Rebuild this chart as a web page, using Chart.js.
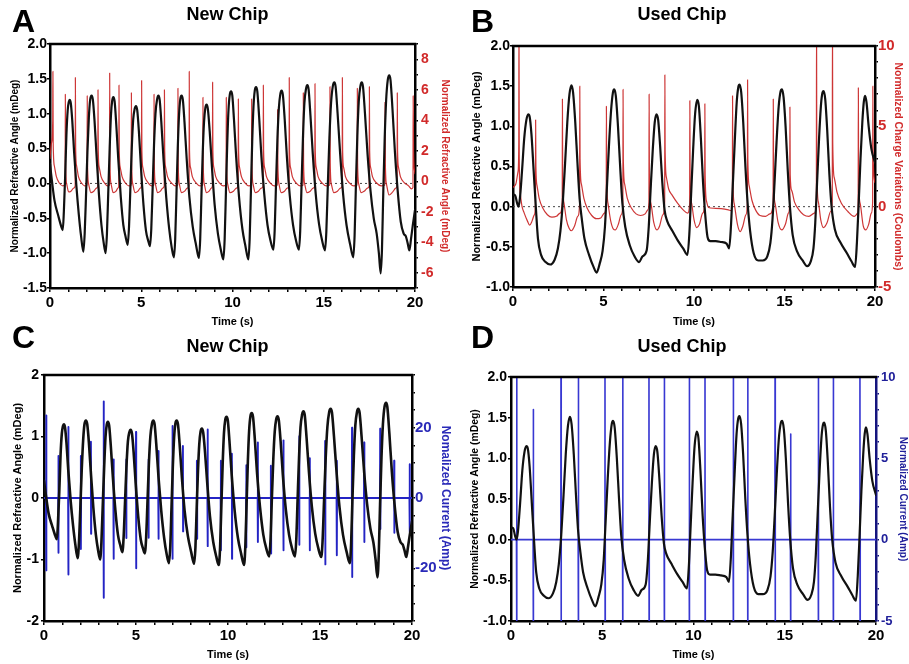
<!DOCTYPE html>
<html>
<head>
<meta charset="utf-8">
<title>Refractive angle, charge and current — new vs used chip</title>
<script src="https://cdn.jsdelivr.net/npm/chart.js@4.4.1/dist/chart.umd.min.js"></script>
<style>
  html, body { margin: 0; padding: 0; background: #fff; }
  #page { position: relative; width: 909px; height: 664px; overflow: hidden;
          font-family: "Liberation Sans", Arial, sans-serif; }
  canvas { position: absolute; }
  .letter { position: absolute; font-weight: bold; font-size: 32px; line-height: 1; color: #000; }
</style>
</head>
<body>
<div id="page">
  <canvas id="chartA" width="455" height="332" style="left:0px;top:0px"></canvas>
  <canvas id="chartB" width="454" height="332" style="left:455px;top:0px"></canvas>
  <canvas id="chartC" width="455" height="332" style="left:0px;top:332px"></canvas>
  <canvas id="chartD" width="454" height="332" style="left:455px;top:332px"></canvas>
  <div class="letter" style="left:12px;top:5px">A</div>
  <div class="letter" style="left:471px;top:5px">B</div>
  <div class="letter" style="left:12px;top:321px">C</div>
  <div class="letter" style="left:471px;top:321px">D</div>
</div>
<script>
// ---- tick labels ----
const timeLabels = [0, 5, 10, 15, 20];
const chargeLabelsNew = [-6, -4, -2, 0, 2, 4, 6, 8];
const chargeLabelsUsed = [-5, 0, 5, 10];
const currentLabelsNew = [-20, 0, 20];
const currentLabelsUsed = [-5, 0, 5, 10];

// ---- normalized refractive angle (mDeg) vs time (s), new chip ----
const newChipAngle = [
  [0.00,0.28],[0.10,0.05],[0.25,-0.25],[0.45,-0.46],[0.62,-0.62],
  [0.70,-0.67],[0.76,-0.40],[0.83,0.10],[0.90,0.70],[0.97,1.05],[1.03,1.17],[1.08,1.20],[1.14,1.15],[1.22,0.90],[1.32,0.45],[1.45,-0.05],[1.58,-0.45],[1.70,-0.75],[1.83,-0.98],
  [1.90,-0.72],[1.97,-0.20],[2.05,0.45],[2.13,0.95],[2.20,1.20],[2.28,1.26],[2.35,1.20],[2.44,0.90],[2.55,0.40],[2.68,-0.15],[2.82,-0.60],[2.94,-0.85],[3.05,-1.00],
  [3.12,-0.72],[3.19,-0.15],[3.27,0.50],[3.34,0.98],[3.41,1.19],[3.47,1.24],[3.54,1.18],[3.63,0.85],[3.74,0.35],[3.88,-0.20],[4.02,-0.60],[4.14,-0.76],[4.26,-0.88],
  [4.33,-0.62],[4.40,-0.10],[4.48,0.50],[4.56,0.92],[4.64,1.07],[4.71,1.11],[4.78,1.05],[4.87,0.75],[4.98,0.25],[5.12,-0.30],[5.26,-0.68],[5.38,-0.82],[5.48,-0.90],
  [5.55,-0.65],[5.62,-0.10],[5.70,0.55],[5.78,1.00],[5.87,1.21],[5.94,1.26],[6.01,1.20],[6.10,0.88],[6.22,0.35],[6.37,-0.20],[6.53,-0.65],[6.67,-0.92],[6.79,-1.06],
  [6.86,-0.80],[6.93,-0.15],[7.00,0.50],[7.07,0.98],[7.14,1.21],[7.21,1.26],[7.28,1.20],[7.37,0.88],[7.49,0.35],[7.64,-0.20],[7.82,-0.62],[8.00,-0.88],[8.16,-1.07],
  [8.23,-0.80],[8.30,-0.15],[8.37,0.45],[8.44,0.88],[8.51,1.08],[8.58,1.13],[8.65,1.07],[8.75,0.75],[8.87,0.25],[9.02,-0.30],[9.20,-0.72],[9.36,-0.95],[9.50,-1.09],
  [9.57,-0.80],[9.64,-0.12],[9.71,0.55],[9.78,1.05],[9.85,1.27],[9.92,1.32],[9.99,1.26],[10.08,0.92],[10.20,0.38],[10.36,-0.20],[10.54,-0.65],[10.71,-0.90],[10.87,-1.09],
  [10.94,-0.80],[11.01,-0.10],[11.08,0.60],[11.15,1.10],[11.22,1.33],[11.29,1.38],[11.36,1.32],[11.46,0.95],[11.58,0.40],[11.74,-0.15],[11.92,-0.60],[12.08,-0.82],[12.24,-0.95],
  [12.31,-0.68],[12.38,-0.05],[12.46,0.62],[12.54,1.08],[12.62,1.28],[12.69,1.33],[12.76,1.27],[12.86,0.92],[12.98,0.38],[13.14,-0.18],[13.32,-0.60],[13.48,-0.82],[13.64,-0.95],
  [13.71,-0.68],[13.78,-0.05],[13.86,0.65],[13.94,1.15],[14.03,1.36],[14.10,1.41],[14.17,1.35],[14.27,0.98],[14.40,0.42],[14.56,-0.15],[14.74,-0.58],[14.91,-0.82],[15.07,-0.96],
  [15.14,-0.70],[15.22,-0.05],[15.31,0.65],[15.40,1.15],[15.50,1.40],[15.58,1.45],[15.65,1.39],[15.76,1.00],[15.90,0.42],[16.06,-0.15],[16.25,-0.60],[16.45,-0.88],[16.62,-1.06],
  [16.69,-0.75],[16.76,-0.05],[16.84,0.68],[16.92,1.18],[17.01,1.40],[17.08,1.45],[17.15,1.39],[17.26,1.00],[17.40,0.42],[17.56,-0.10],[17.74,-0.50],[17.90,-0.72],[18.02,-1.00],[18.12,-1.29],
  [18.19,-0.95],[18.26,-0.15],[18.34,0.65],[18.42,1.20],[18.51,1.49],[18.59,1.55],[18.66,1.48],[18.77,1.05],[18.90,0.45],[19.05,-0.10],[19.22,-0.55],[19.38,-0.72],[19.50,-0.76],[19.60,-0.86],[19.69,-0.96],
  [19.78,-0.80],[19.88,-0.60],[20.00,-0.38]
];

// ---- normalized refractive angle (mDeg) vs time (s), used chip ----
const usedChipAngle = [
  [0.00,0.15],[0.12,0.14],[0.22,0.05],[0.30,0.00],[0.38,0.10],[0.50,0.45],[0.62,0.85],[0.74,1.08],[0.84,1.15],[0.92,1.12],[1.02,0.90],[1.14,0.45],[1.26,0.00],[1.38,-0.40],[1.55,-0.60],[1.80,-0.69],[2.05,-0.72],[2.30,-0.66],[2.48,-0.52],[2.62,-0.30],
  [2.75,0.05],[2.88,0.55],[3.00,1.05],[3.12,1.40],[3.23,1.51],[3.32,1.42],[3.44,1.05],[3.56,0.55],[3.68,0.10],[3.80,-0.15],[3.95,-0.40],[4.20,-0.60],[4.45,-0.75],[4.62,-0.82],[4.80,-0.70],[4.95,-0.55],
  [5.08,-0.25],[5.18,0.20],[5.30,0.75],[5.42,1.20],[5.52,1.42],[5.59,1.46],[5.68,1.38],[5.80,1.00],[5.92,0.50],[6.04,0.05],[6.20,-0.25],[6.45,-0.48],[6.72,-0.62],[6.97,-0.69],[7.15,-0.62],[7.38,-0.55],
  [7.50,-0.25],[7.60,0.20],[7.72,0.70],[7.83,1.05],[7.93,1.15],[8.02,1.08],[8.13,0.75],[8.25,0.30],[8.38,-0.05],[8.52,-0.18],[8.80,-0.30],[9.10,-0.42],[9.40,-0.52],[9.64,-0.60],
  [9.74,-0.35],[9.84,0.15],[9.95,0.70],[10.06,1.15],[10.18,1.33],[10.27,1.25],[10.38,0.85],[10.50,0.30],[10.62,-0.10],[10.75,-0.38],[10.90,-0.43],[11.20,-0.43],[11.50,-0.44],[11.80,-0.46],[11.94,-0.52],
  [12.04,-0.25],[12.14,0.25],[12.25,0.80],[12.36,1.30],[12.45,1.49],[12.52,1.52],[12.61,1.42],[12.72,1.05],[12.84,0.50],[12.96,0.05],[13.10,-0.30],[13.30,-0.58],[13.55,-0.67],[13.80,-0.67],[14.05,-0.62],[14.22,-0.45],
  [14.34,-0.15],[14.45,0.30],[14.56,0.80],[14.68,1.25],[14.78,1.43],[14.86,1.46],[14.95,1.36],[15.06,1.00],[15.18,0.45],[15.30,0.00],[15.45,-0.35],[15.70,-0.56],[16.00,-0.67],[16.25,-0.74],[16.45,-0.68],[16.60,-0.52],
  [16.70,-0.20],[16.80,0.30],[16.91,0.85],[17.02,1.28],[17.10,1.42],[17.16,1.44],[17.25,1.34],[17.36,0.95],[17.48,0.40],[17.60,0.00],[17.78,-0.28],[18.10,-0.45],[18.45,-0.58],[18.70,-0.68],[18.90,-0.75],
  [19.00,-0.45],[19.10,0.05],[19.20,0.60],[19.30,1.05],[19.38,1.30],[19.45,1.38],[19.53,1.30],[19.65,1.00],[19.80,0.72],[20.00,0.55]
];

// ---- normalized charge signal, new chip (right axis of A) ----
const newChipCharge = [
  [0.00,1.5],[0.08,2.5],[0.15,4.0],[0.16,7.2],[0.175,2.5],[0.24,1.0],[0.35,0.3],[0.50,-0.1],[0.70,-0.3],[0.83,-0.2],
  [0.84,5.7],[0.855,1.2],[0.92,-0.2],[1.02,-0.7],[1.15,-0.65],[1.30,-0.45],[1.38,-0.3],
  [1.39,6.8],[1.405,2.2],[1.46,1.0],[1.56,0.3],[1.72,-0.1],[1.90,-0.3],[2.03,-0.25],
  [2.04,5.6],[2.055,1.2],[2.12,-0.2],[2.24,-0.75],[2.40,-0.65],[2.55,-0.45],[2.62,-0.3],
  [2.63,6.0],[2.645,2.0],[2.70,0.9],[2.80,0.3],[2.98,-0.1],[3.15,-0.3],[3.26,-0.25],
  [3.27,7.1],[3.285,1.2],[3.35,-0.2],[3.46,-0.75],[3.62,-0.65],[3.72,-0.45],[3.77,-0.3],
  [3.78,6.3],[3.795,2.0],[3.85,0.9],[3.95,0.3],[4.12,-0.1],[4.32,-0.3],[4.45,-0.25],
  [4.46,5.8],[4.475,1.2],[4.54,-0.2],[4.66,-0.75],[4.82,-0.65],[4.95,-0.45],[5.01,-0.3],
  [5.02,6.6],[5.035,2.0],[5.09,0.9],[5.19,0.3],[5.38,-0.1],[5.58,-0.3],[5.69,-0.25],
  [5.70,5.7],[5.715,1.2],[5.78,-0.2],[5.90,-0.75],[6.05,-0.65],[6.18,-0.45],[6.26,-0.3],
  [6.27,6.0],[6.285,2.0],[6.34,0.9],[6.44,0.3],[6.65,-0.1],[6.88,-0.3],[7.00,-0.25],
  [7.01,6.1],[7.025,1.2],[7.09,-0.2],[7.20,-0.75],[7.38,-0.65],[7.52,-0.45],[7.62,-0.3],
  [7.63,7.2],[7.645,2.0],[7.70,0.9],[7.80,0.3],[8.00,-0.1],[8.22,-0.3],[8.37,-0.25],
  [8.38,5.5],[8.395,1.2],[8.46,-0.2],[8.57,-0.75],[8.72,-0.65],[8.84,-0.45],[8.90,-0.3],
  [8.91,6.5],[8.925,2.0],[8.98,0.9],[9.08,0.3],[9.28,-0.1],[9.50,-0.3],[9.65,-0.25],
  [9.66,5.5],[9.675,1.2],[9.74,-0.2],[9.86,-0.75],[10.05,-0.65],[10.22,-0.45],[10.31,-0.3],
  [10.32,5.4],[10.335,2.0],[10.39,0.9],[10.49,0.3],[10.68,-0.1],[10.90,-0.3],[11.04,-0.25],
  [11.05,5.4],[11.065,1.2],[11.13,-0.2],[11.25,-0.75],[11.42,-0.65],[11.58,-0.45],[11.68,-0.3],
  [11.69,6.3],[11.705,2.0],[11.76,0.9],[11.86,0.3],[12.06,-0.1],[12.30,-0.3],[12.46,-0.25],
  [12.47,4.7],[12.485,1.2],[12.55,-0.2],[12.67,-0.75],[12.85,-0.65],[13.00,-0.45],[13.10,-0.3],
  [13.11,6.8],[13.125,2.0],[13.18,0.9],[13.28,0.3],[13.48,-0.1],[13.72,-0.3],[13.87,-0.25],
  [13.88,5.8],[13.895,1.2],[13.96,-0.2],[14.08,-0.75],[14.26,-0.65],[14.42,-0.45],[14.51,-0.3],
  [14.52,6.4],[14.535,2.0],[14.59,0.9],[14.69,0.3],[14.90,-0.1],[15.15,-0.3],[15.33,-0.25],
  [15.34,6.2],[15.355,1.2],[15.42,-0.2],[15.55,-0.75],[15.75,-0.65],[15.92,-0.45],[16.01,-0.3],
  [16.02,6.8],[16.035,2.0],[16.09,0.9],[16.19,0.3],[16.40,-0.1],[16.65,-0.3],[16.83,-0.25],
  [16.84,6.1],[16.855,1.2],[16.92,-0.2],[17.05,-0.75],[17.22,-0.65],[17.40,-0.45],[17.49,-0.3],
  [17.50,6.2],[17.515,2.0],[17.57,0.9],[17.67,0.3],[17.88,-0.1],[18.15,-0.3],[18.35,-0.25],
  [18.36,5.2],[18.375,1.2],[18.44,-0.2],[18.58,-0.9],[18.78,-0.7],[18.95,-0.45],[19.02,-0.3],
  [19.03,5.8],[19.045,2.0],[19.10,0.9],[19.20,0.3],[19.42,-0.1],[19.65,-0.3],[19.80,-0.5],[19.89,-0.4],
  [19.90,5.6],[19.92,2.0],[20.00,0.5]
];

// ---- normalized charge variations (Coulombs), used chip (right axis of B) ----
const usedChipCharge = [
  [0.00,1.2],[0.15,1.4],[0.28,2.2],[0.32,4.0],[0.33,12],[0.345,3.0],[0.40,0.8],[0.50,0.0],[0.62,-0.4],[0.80,-0.9],[0.92,-1.15],[1.05,-0.9],[1.18,-0.5],[1.24,0.2],
  [1.25,5.4],[1.265,2.5],[1.33,1.3],[1.45,0.5],[1.65,-0.1],[1.90,-0.5],[2.15,-0.65],[2.40,-0.6],[2.60,-0.4],[2.72,0.3],
  [2.73,6.7],[2.745,2.0],[2.82,0.2],[2.95,-0.8],[3.10,-1.35],[3.22,-1.5],[3.40,-1.2],[3.58,-0.6],[3.68,0.2],
  [3.69,7.5],[3.705,3.0],[3.78,1.4],[3.92,0.5],[4.10,-0.1],[4.35,-0.55],[4.60,-0.75],[4.85,-0.7],[5.05,-0.4],[5.15,0.3],
  [5.16,6.25],[5.175,2.0],[5.25,0.2],[5.40,-0.9],[5.55,-1.4],[5.65,-1.45],[5.82,-1.1],[5.98,-0.5],[6.07,0.2],
  [6.08,7.3],[6.095,3.0],[6.17,1.4],[6.32,0.5],[6.55,-0.1],[6.80,-0.45],[7.05,-0.55],[7.30,-0.45],[7.45,-0.2],[7.51,0.3],
  [7.52,7.0],[7.535,2.0],[7.62,0.2],[7.78,-1.0],[7.95,-1.45],[8.10,-1.2],[8.28,-0.5],[8.38,0.3],
  [8.39,8.2],[8.405,3.5],[8.48,1.8],[8.60,1.1],[8.80,0.7],[9.10,0.2],[9.40,-0.2],[9.65,-0.4],[9.76,0.2],
  [9.77,6.6],[9.785,2.0],[9.87,0.2],[10.00,-0.8],[10.15,-1.3],[10.30,-1.1],[10.48,-0.4],[10.59,0.3],
  [10.60,6.4],[10.615,2.0],[10.70,0.3],[10.80,-0.05],[11.10,-0.1],[11.50,-0.12],[11.90,-0.2],[12.05,-0.25],[12.12,0.2],
  [12.13,6.9],[12.145,2.0],[12.22,0.2],[12.40,-1.1],[12.55,-1.55],[12.70,-1.2],[12.87,-0.5],[12.95,0.3],
  [12.96,7.9],[12.975,3.0],[13.05,1.3],[13.20,0.4],[13.40,-0.2],[13.65,-0.55],[13.95,-0.6],[14.20,-0.45],[14.37,0.2],
  [14.38,6.7],[14.395,2.0],[14.48,0.2],[14.65,-1.0],[14.85,-1.45],[15.05,-1.1],[15.22,-0.4],[15.29,0.3],
  [15.30,6.2],[15.315,2.0],[15.40,1.0],[15.55,0.3],[15.80,-0.2],[16.05,-0.5],[16.35,-0.6],[16.65,-0.4],[16.76,0.3],
  [16.77,12],[16.785,2.5],[16.87,0.3],[17.00,-0.8],[17.15,-1.3],[17.35,-1.0],[17.55,-0.3],[17.64,0.4],
  [17.65,12],[17.665,4.0],[17.75,1.8],[17.90,0.9],[18.15,0.2],[18.50,-0.3],[18.85,-0.6],[19.05,-0.4],[19.07,0.3],
  [19.08,7.4],[19.095,2.0],[19.18,0.2],[19.35,-1.2],[19.48,-1.45],[19.65,-1.1],[19.80,-0.4],[19.87,0.3],
  [19.88,7.5],[19.90,3.0],[20.00,1.5]
];

// ---- normalized current (Amp), new chip: spike times and their positive / negative extremes ----
const newChipCurrentTime = [0.12,0.78,1.32,2.00,2.55,3.24,3.78,4.47,5.00,5.68,6.22,6.98,7.55,8.31,8.89,9.61,10.21,10.99,11.62,12.33,13.01,13.87,14.44,15.28,15.91,16.74,17.40,18.27,19.03,19.87];
const newChipCurrentUp   = [23.5,12.0,20.2,12.0,16.0,27.5,11.0,11.0,18.8,11.0,13.4,20.5,14.8,10.6,19.5,10.6,12.6,9.3,15.8,9.2,16.4,17.6,11.3,16.2,10.6,20.0,15.8,19.7,10.6,9.6];
const newChipCurrentDown = [-20.6,-15.6,-21.8,-14.5,-10.2,-28.4,-17.3,-11.4,-20.0,-11.3,-11.6,-17.3,-9.5,-11.6,-13.7,-14.9,-17.3,-14.0,-12.5,-15.8,-14.9,-13.3,-14.9,-18.9,-16.3,-22.5,-12.5,-8.8,-9.9,-9.7];

// ---- normalized current (Amp), used chip: spike times and their positive / negative extremes ----
const usedChipCurrentTime = [0.31,1.22,2.74,3.69,5.15,6.12,7.56,8.40,9.77,10.63,12.18,12.97,14.47,15.32,16.84,17.66,19.12];
const usedChipCurrentUp   = [12,8.0,12,12,12,12,12,12,12,12,12,12,12,6.5,12,12,12];
const usedChipCurrentDown = [-7,-7,-7,-7,-7,-7,-7,-7,-7,-7,-7,-7,-7,-7,-7,-7,-7];

const FONT = '"Liberation Sans", Arial, sans-serif';
const toXY = pairs => pairs.map(p => ({ x: p[0], y: p[1] }));

// bipolar current spikes rising from and returning to the zero baseline
function spikeSeries(times, ups, downs) {
  const pts = [{ x: 0, y: 0 }];
  times.forEach((t, i) => {
    pts.push({ x: t - 0.01, y: 0 }, { x: t, y: ups[i] }, { x: t + 0.008, y: downs[i] }, { x: t + 0.016, y: 0 });
  });
  pts.push({ x: 20, y: 0 });
  return pts;
}

// top frame edge and optional dotted zero reference
const framePlugin = {
  id: 'frame',
  beforeDatasetsDraw(chart, args, opts) {
    if (!opts.zeroLine) return;
    const { ctx, chartArea: a } = chart;
    const y = chart.scales.y.getPixelForValue(0);
    ctx.save();
    ctx.strokeStyle = '#444';
    ctx.lineWidth = 1;
    ctx.setLineDash([2, 3]);
    ctx.beginPath(); ctx.moveTo(a.left, y); ctx.lineTo(a.right, y); ctx.stroke();
    ctx.restore();
  },
  afterDraw(chart, args, opts) {
    const { ctx, chartArea: a } = chart;
    ctx.save();
    ctx.strokeStyle = opts.topColor || '#000';
    ctx.lineWidth = 2.5;
    ctx.beginPath(); ctx.moveTo(a.left - 1.25, a.top); ctx.lineTo(a.right + 1.25, a.top); ctx.stroke();
    ctx.restore();
  }
};

function buildChart(id, p) {
  const L = p.left, R = p.right;
  return new Chart(document.getElementById(id), {
    type: 'line',
    data: { datasets: p.datasets },
    options: {
      responsive: false,
      animation: false,
      devicePixelRatio: 1,
      layout: { padding: 0 },
      elements: { point: { radius: 0 }, line: { borderJoinStyle: 'round', borderCapStyle: 'round' } },
      plugins: {
        legend: { display: false },
        tooltip: { enabled: false },
        title: {
          display: true, text: p.title, color: '#000',
          font: { family: FONT, size: 18, weight: 'bold' },
          padding: { top: 4.2, bottom: p.titleGap }
        },
        frame: { zeroLine: p.zeroLine, topColor: '#000' }
      },
      scales: {
        x: {
          type: 'linear', position: 'bottom', min: 0, max: 20,
          afterFit: s => { s.height = p.xHeight; },
          border: { display: true, color: '#000', width: 2.5 },
          grid: { drawOnChartArea: false, drawTicks: true, tickLength: 4, color: '#000', lineWidth: 1.5 },
          ticks: {
            stepSize: 1, maxTicksLimit: 100, autoSkip: false, maxRotation: 0, padding: 2, color: '#000',
            font: { family: FONT, size: 15, weight: 'bold' },
            callback: v => timeLabels.includes(Math.round(v * 1000) / 1000) ? String(v) : ''
          },
          title: {
            display: true, text: 'Time (s)', color: '#000',
            font: { family: FONT, size: 11, weight: 'bold' },
            padding: { top: 0, bottom: p.xTitlePad }
          }
        },
        y: {
          type: 'linear', position: 'left', min: L.min, max: L.max,
          afterFit: s => { s.width = L.width; },
          border: { display: true, color: '#000', width: 2.5 },
          grid: { drawOnChartArea: false, drawTicks: true, tickLength: 3, color: '#000', lineWidth: 1.5 },
          ticks: {
            stepSize: L.step, maxTicksLimit: 100, autoSkip: false, padding: L.pad, color: '#000',
            font: { family: FONT, size: 14, weight: 'bold' },
            callback: v => v.toFixed(L.decimals)
          },
          title: {
            display: true, text: 'Normalized Refractive Angle (mDeg)', color: '#000',
            font: { family: FONT, size: L.titleSize, weight: 'bold' },
            padding: { top: L.titlePad, bottom: 0 }
          }
        },
        y2: {
          type: 'linear', position: 'right', min: R.min, max: R.max,
          afterFit: s => { s.width = R.width; },
          border: { display: true, color: R.axisColor, width: 2.5 },
          grid: { drawOnChartArea: false, drawTicks: true, tickLength: 3, color: R.axisColor, lineWidth: 1.5 },
          ticks: {
            stepSize: R.step, maxTicksLimit: 100, autoSkip: false, padding: R.pad, color: R.color,
            font: { family: FONT, size: R.fontSize, weight: 'bold' },
            callback: v => R.labels.includes(Math.round(v * 1000) / 1000) ? String(Math.round(v)) : ''
          },
          title: {
            display: true, text: R.title, color: R.color,
            font: { family: FONT, size: R.titleSize, weight: 'bold' },
            padding: { top: R.titlePad, bottom: 0 }
          }
        }
      }
    },
    plugins: [framePlugin]
  });
}

const BLACK = '#111';
const RED = 'rgba(200, 32, 32, 0.9)';
const BLUE_C = '#2424c4';
const BLUE_D = '#3838d2';

// A: new chip, angle and charge
buildChart('chartA', {
  title: 'New Chip', titleGap: 18.2, xHeight: 44, xTitlePad: 3.4, zeroLine: true,
  left: { min: -1.5, max: 2, step: 0.5, decimals: 1, width: 50, pad: 0, titleSize: 10, titlePad: 9 },
  right: { min: -7, max: 9, step: 1, labels: chargeLabelsNew, width: 40, pad: 3, color: '#d12a2a', axisColor: '#000',
           fontSize: 14, title: 'Normalized Refractive Angle (mDeg)', titleSize: 10, titlePad: 4 },
  datasets: [
    { data: toXY(newChipAngle), yAxisID: 'y', borderColor: BLACK, borderWidth: 2.2, cubicInterpolationMode: 'monotone' },
    { data: toXY(newChipCharge), yAxisID: 'y2', borderColor: RED, borderWidth: 1.2, cubicInterpolationMode: 'monotone' }
  ]
});

// B: used chip, angle and charge variations
buildChart('chartB', {
  title: 'Used Chip', titleGap: 20.2, xHeight: 45, xTitlePad: 3.4, zeroLine: true,
  left: { min: -1, max: 2, step: 0.5, decimals: 1, width: 58, pad: 0, titleSize: 11, titlePad: 15 },
  right: { min: -5, max: 10, step: 1, labels: chargeLabelsUsed, width: 34, pad: 0, color: '#d12a2a', axisColor: '#000',
           fontSize: 15, title: 'Normalized Charge Variations (Coulombs)', titleSize: 10.4, titlePad: 4.8 },
  datasets: [
    { data: toXY(usedChipAngle), yAxisID: 'y', borderColor: BLACK, borderWidth: 2.2, cubicInterpolationMode: 'monotone' },
    { data: toXY(usedChipCharge), yAxisID: 'y2', borderColor: RED, borderWidth: 1.2, cubicInterpolationMode: 'monotone' }
  ]
});

// C: new chip, angle and current
buildChart('chartC', {
  title: 'New Chip', titleGap: 17.2, xHeight: 43, xTitlePad: 2.4, zeroLine: false,
  left: { min: -2, max: 2, step: 1, decimals: 0, width: 44, pad: 2, titleSize: 11, titlePad: 11.4 },
  right: { min: -35, max: 35, step: 5, labels: currentLabelsNew, width: 43, pad: 0, color: '#2a2ab8', axisColor: '#000',
           fontSize: 15, title: 'Nomalized Current (Amp)', titleSize: 12, titlePad: 2.8 },
  datasets: [
    { data: toXY(newChipAngle), yAxisID: 'y', borderColor: BLACK, borderWidth: 2.6, cubicInterpolationMode: 'monotone' },
    { data: spikeSeries(newChipCurrentTime, newChipCurrentUp, newChipCurrentDown), yAxisID: 'y2',
      borderColor: BLUE_C, borderWidth: 1.9, tension: 0 }
  ]
});

// D: used chip, angle and current
buildChart('chartD', {
  title: 'Used Chip', titleGap: 19.2, xHeight: 43, xTitlePad: 2.4, zeroLine: false,
  left: { min: -1, max: 2, step: 0.5, decimals: 1, width: 56, pad: 1, titleSize: 10.4, titlePad: 13.8 },
  right: { min: -5, max: 10, step: 1, labels: currentLabelsUsed, width: 33, pad: 2, color: '#20209a', axisColor: '#14147e',
           fontSize: 13, title: 'Normalized Current (Amp)', titleSize: 10, titlePad: 0 },
  datasets: [
    { data: toXY(usedChipAngle), yAxisID: 'y', borderColor: BLACK, borderWidth: 2.2, cubicInterpolationMode: 'monotone' },
    { data: spikeSeries(usedChipCurrentTime, usedChipCurrentUp, usedChipCurrentDown), yAxisID: 'y2',
      borderColor: BLUE_D, borderWidth: 1.6, tension: 0 }
  ]
});
</script>
</body>
</html>
